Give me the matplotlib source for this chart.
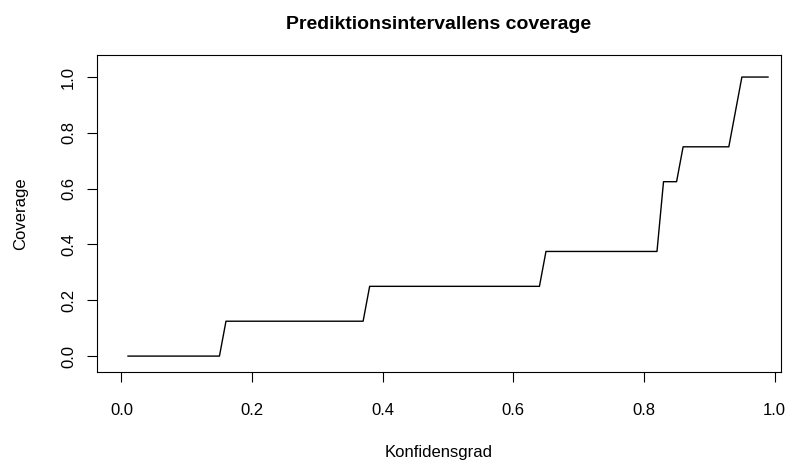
import numpy as np
import matplotlib
matplotlib.use("Agg")
import matplotlib.pyplot as plt

plt.rcParams["font.family"] = ["Liberation Sans", "DejaVu Sans"]

# confidence levels 0.01 .. 0.99 and the empirical coverage at each
konfidens = np.round(np.arange(1, 100) / 100, 2)
breaks = [0.16, 0.38, 0.65, 0.83, 0.86, 0.94, 0.95]
levels = [0.0, 0.125, 0.25, 0.375, 0.625, 0.75, 0.875, 1.0]
coverage = np.array([levels[np.searchsorted(breaks, k, side="right")] for k in konfidens])

fig = plt.figure(figsize=(7.95, 4.67), dpi=100)
ax = fig.add_axes([97 / 795, 1 - 372 / 467, 684 / 795, 317 / 467])
ax.plot(konfidens, coverage, color="black", lw=1)

ax.set_xlim(-0.0375, 1.0099)
ax.set_ylim(-0.057, 1.079)
ax.set_xticks([0.0, 0.2, 0.4, 0.6, 0.8, 1.0])
ax.set_yticks([0.0, 0.2, 0.4, 0.6, 0.8, 1.0])
ax.set_xticklabels(["0.0", "0.2", "0.4", "0.6", "0.8", "1.0"])
ax.set_yticklabels(["0.0", "0.2", "0.4", "0.6", "0.8", "1.0"], rotation=90, va="center")
ax.tick_params(direction="out", length=7, width=0.8, labelsize=12)
ax.tick_params(axis="x", pad=15)
ax.tick_params(axis="y", pad=8)
for s in ax.spines.values():
    s.set_linewidth(0.8)

ax.set_xlabel("Konfidensgrad", fontsize=12, labelpad=20)
ax.set_ylabel("Coverage", fontsize=12, labelpad=24)
ax.set_title("Prediktionsintervallens coverage", fontsize=14, fontweight="bold", pad=19)

fig.savefig("out.png", dpi=100)
